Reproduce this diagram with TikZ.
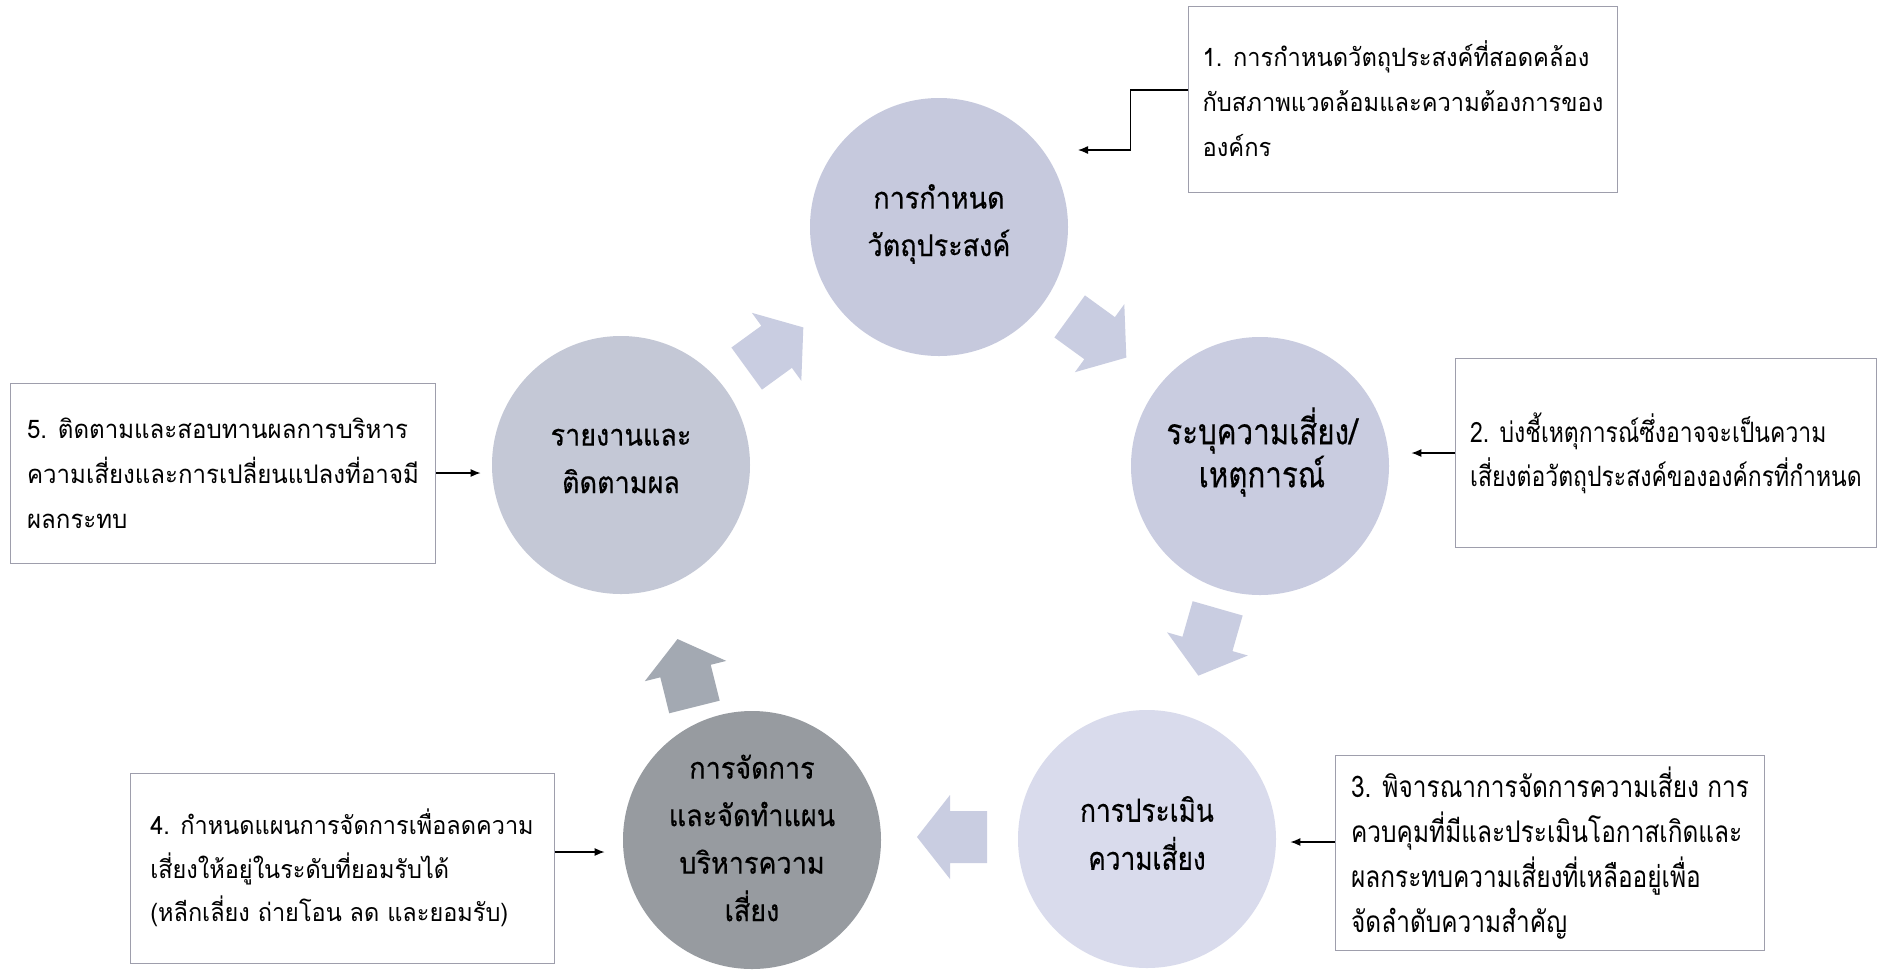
\documentclass[tikz,border=0pt]{standalone}
\usepackage{fontspec}
\newfontfamily\thaifont[Script=Thai,FakeStretch=0.94]{Loma}
\newfontfamily\thaicond[Script=Thai,FakeStretch=0.82]{Loma}
\newfontfamily\thaicirc[Script=Thai,FakeStretch=0.9,FakeBold=0.4]{Loma}
\newfontfamily\thaicircc[Script=Thai,FakeStretch=0.82,FakeBold=0.3]{Loma}
\usetikzlibrary{arrows.meta}
\definecolor{cA}{RGB}{198,201,221}
\definecolor{cB}{RGB}{201,204,224}
\definecolor{cC}{RGB}{217,219,236}
\definecolor{cD}{RGB}{151,155,160}
\definecolor{cE}{RGB}{196,200,214}
\definecolor{arrL}{RGB}{201,205,225}
\definecolor{arrD}{RGB}{163,169,178}
\definecolor{boxline}{RGB}{158,158,172}
\newcommand\blockarr[4]{\fill[#4, shift={(#1,#2)}, rotate=#3] (-35,-26) -- (2,-26) -- (2,-42) -- (35,0) -- (2,42) -- (2,26) -- (-35,26) -- cycle;}
\begin{document}
\begin{tikzpicture}[x=0.5pt,y=-0.5pt,
  box/.style={draw=boxline, line width=0.5pt, fill=white, inner xsep=7pt, inner ysep=0pt, align=left,
    font=\thaifont\fontsize{12.6}{22.5}\selectfont},
  boxc/.style={box, font=\thaicond\fontsize{14}{22}\selectfont},
  circ/.style={circle, minimum size=129pt, inner sep=0pt},
  ctext/.style={align=center, inner sep=0pt, font=\thaicirc\fontsize{15}{23.75}\selectfont},
  ctextc/.style={align=center, inner sep=0pt, font=\thaicircc\fontsize{18}{21.5}\selectfont},
  conn/.style={line width=0.6pt, -{Latex[length=5pt,width=4pt]}}
]
\useasboundingbox (0,0) rectangle (1887,971);
\fill[white] (0,0) rectangle (1887,971);

% circles
\node[circ, fill=cA] (c1) at (939,227) {};
\node[circ, fill=cB] (c2) at (1260,466) {};
\node[circ, fill=cC] (c3) at (1147,839) {};
\node[circ, fill=cD] (c4) at (752,840) {};
\node[circ, fill=cE] (c5) at (621,465) {};

\node[ctext] (t1) at (939,224) {การกำหนด\\วัตถุประสงค์};
\node[ctextc] (t2) at (1262,452) {ระบุความเสี่ยง/\\เหตุการณ์};
\node[ctextc, font=\thaicircc\fontsize{16}{24}\selectfont] (t3) at (1147,833) {การประเมิน\\ความเสี่ยง};
\node[ctext] (t4) at (752,838) {การจัดการ\\และจัดทำแผน\\บริหารความ\\เสี่ยง};
\node[ctext] (t5) at (621,461) {รายงานและ\\ติดตามผล};

% block arrows
\blockarr{775}{348}{36}{arrL}
\blockarr{1098}{337}{-36}{arrL}
\blockarr{1208}{642}{-106}{arrL}
\blockarr{952}{837}{180}{arrL}
\blockarr{686}{673}{104}{arrD}

% boxes
\node[box, minimum width=210pt, minimum height=93pt] (b1) at (1403,99)
  {1. การกำหนดวัตถุประสงค์ที่สอดคล้อง\\กับสภาพแวดล้อมและความต้องการของ\\องค์กร};
\node[boxc, minimum width=210.5pt, minimum height=94.5pt] (b2) at (1666,453)
  {2. บ่งชี้เหตุการณ์ซึ่งอาจจะเป็นความ\\เสี่ยงต่อวัตถุประสงค์ขององค์กรที่กำหนด};
\node[boxc, font=\thaicond\fontsize{14.9}{22.5}\selectfont, minimum width=214.5pt, minimum height=97.5pt] (b3) at (1550,853)
  {3. พิจารณาการจัดการความเสี่ยง การ\\ควบคุมที่มีและประเมินโอกาสเกิดและ\\ผลกระทบความเสี่ยงที่เหลืออยู่เพื่อ\\จัดลำดับความสำคัญ};
\node[box, font=\thaifont\fontsize{12.5}{21.75}\selectfont, minimum width=212pt, minimum height=95pt] (b4) at (342,868)
  {4. กำหนดแผนการจัดการเพื่อลดความ\\เสี่ยงให้อยู่ในระดับที่ยอมรับได้\\(หลีกเลี่ยง ถ่ายโอน ลด และยอมรับ)};
\node[box, font=\thaifont\fontsize{12.8}{22.5}\selectfont, minimum width=212.5pt, minimum height=90pt] (b5) at (223,473)
  {5. ติดตามและสอบทานผลการบริหาร\\ความเสี่ยงและการเปลี่ยนแปลงที่อาจมี\\ผลกระทบ};

% connectors
\coordinate (c1in) at (1078,150);
\draw[conn] ([yshift=4.5pt]b1.west) -- ++(-58,0) |- (c1in);
\draw[conn, shorten >=11pt] (b2.west) -- (b2.west -| c2.east);
\draw[conn, shorten >=7pt] ([yshift=5.5pt]b3.west) -- ([yshift=5.5pt]b3.west -| c3.east);
\draw[conn, shorten >=9pt] ([yshift=8pt]b4.east) -- ([yshift=8pt]b4.east -| c4.west);
\draw[conn, shorten >=5.5pt] (b5.east) -- (b5.east -| c5.west);
\end{tikzpicture}
\end{document}
